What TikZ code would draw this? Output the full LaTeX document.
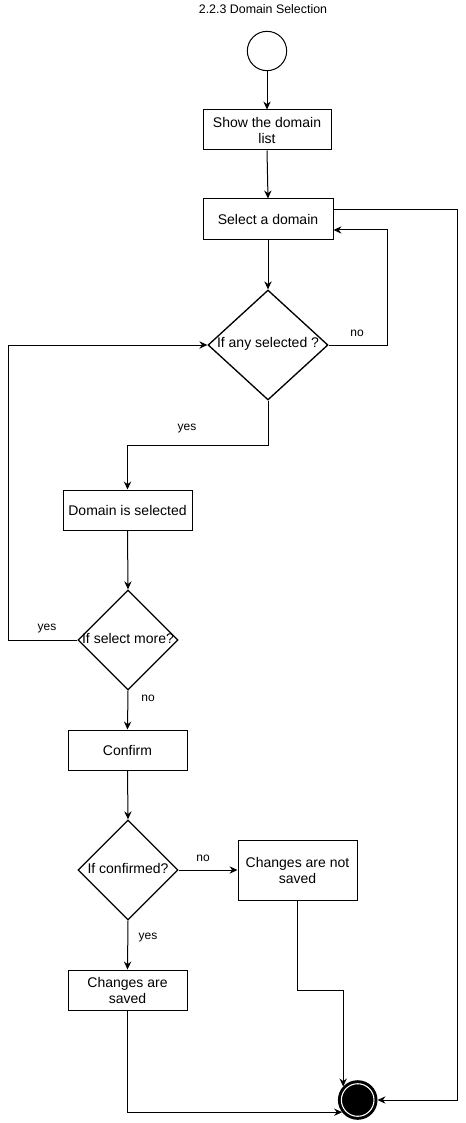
\documentclass[tikz,border=0pt]{standalone}
\usepackage{fontspec}
\setmainfont{Liberation Sans}
\usetikzlibrary{arrows.meta,shapes.geometric,calc}
\begin{document}
\begin{tikzpicture}[x=0.75pt,y=-0.75pt,
  every node/.style={font=\fontsize{10.5}{12}\selectfont},
  box/.style={draw=black, line width=0.75pt, rectangle, minimum height=30pt, align=center, inner sep=0pt},
  dia/.style={draw=black, line width=1pt, diamond, inner sep=0pt, minimum width=75pt, minimum height=75pt},
  lbl/.style={font=\fontsize{9}{10.5}\selectfont},
  conn/.style={draw=black, line width=0.75pt, -{Stealth[length=6pt,width=5.5pt,inset=2pt]}},
  plain/.style={draw=black, line width=0.75pt}]
\useasboundingbox (0,0) rectangle (466,1123);
\fill[white] (0,0) rectangle (466,1123);

\node[font=\fontsize{9.3}{11}\selectfont] (title) at (263,9) {2.2.3 Domain Selection};

\node[circle, draw=black, line width=0.75pt, minimum size=29.5pt, inner sep=0pt] (start) at (267,51) {};

\node[box, minimum width=96pt] (show) at (267,130) {Show the domain\\list};
\node[box, minimum width=97.5pt] (select) at (268,219) {Select a domain};
\node[dia, minimum width=90pt, minimum height=82.5pt] (d1) at (268,345) {};
\node (d1t) at (268,344) {If any selected ?};
\node[box, minimum width=96.75pt] (domsel) at (127.5,510) {Domain is selected};
\node[dia] (d2) at (128,640) {};
\node (d2t) at (128,638) {If select more?};
\node[box, minimum width=89.25pt] (confirm) at (127.5,750) {Confirm};
\node[dia] (d3) at (128,870) {};
\node (d3t) at (128,868) {If confirmed?};
\node[box, minimum width=89.25pt, minimum height=45pt] (notsaved) at (297.5,870) {Changes are not\\saved};
\node[box, minimum width=89.25pt] (saved) at (127.5,990) {Changes are\\saved};

\node[circle, fill=black, draw=black, line width=2.2pt, minimum size=27.5pt, inner sep=0pt] (endc) at (357.7,1100) {};
\draw[white, line width=0.8pt] (endc.center) circle (16.3);

% labels
\node[lbl] (lno1) at (357,333) {no};
\node[lbl] (lyes1) at (187,429) {yes};
\node[lbl] (lyes2) at (47,629) {yes};
\node[lbl] (lno2) at (148,698) {no};
\node[lbl] (lno3) at (203,858) {no};
\node[lbl] (lyes3) at (148,938) {yes};

% coordinates
\coordinate (c1) at (387,230);
\coordinate (c2) at (457,210);
\coordinate (c3) at (268,445);
\coordinate (c4) at (8,640);
\coordinate (c5) at (343.2,990);

% connectors
\draw[conn] (start.south) -- (show.north);
\draw[conn] (show.south) -- (select.north);
\draw[conn] (select.south) -- (d1.north);
\draw[conn] (d1.east) -| (c1) -- (select.east |- c1);
\draw[conn] (select.east |- c2) -- (c2) |- (endc.east);
\draw[conn] (d1.south) -- (c3) -| (domsel.north);
\draw[conn] (domsel.south) -- (d2.north);
\draw[conn] (d2.west) -- (c4) |- (d1.west);
\draw[conn] (d2.south) -- (confirm.north);
\draw[conn] (confirm.south) -- (d3.north);
\draw[conn] (d3.east) -- (notsaved.west);
\draw[conn] (d3.south) -- (saved.north);
\draw[conn] (saved.south) |- (endc.218);
\draw[conn] (notsaved.south) |- (c5) -- (c5 |- endc.137);
\end{tikzpicture}
\end{document}
